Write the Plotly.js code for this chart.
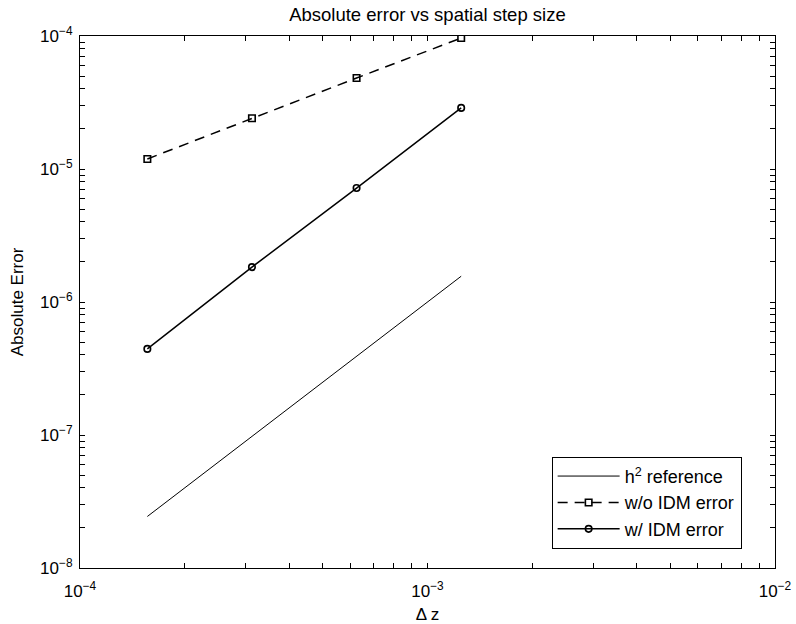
<!DOCTYPE html>
<html>
<head>
<meta charset="utf-8">
<script src="https://cdn.plot.ly/plotly-3.0.1.min.js"></script>
<style>html,body{margin:0;padding:0;background:#fff;}#chart{width:796px;height:624px;}</style>
</head>
<body>
<div id="chart"></div>
<script>
// Data
const dz = [1.5625e-4, 3.125e-4, 6.25e-4, 1.25e-3];
const refH2 = [2.44e-8, 9.77e-8, 3.91e-7, 1.5625e-6];
const errNoIDM = [1.19e-5, 2.41e-5, 4.83e-5, 9.66e-5];
const errIDM = [4.44e-7, 1.83e-6, 7.19e-6, 2.88e-5];
const seriesNames = ['h<sup>2</sup> reference', 'w/o IDM error', 'w/ IDM error'];
const xDecades = [-4, -3, -2];
const yDecades = [-8, -7, -6, -5, -4];

function logTicks(decades) {
  const vals = [], text = [];
  for (let i = 0; i < decades.length; i++) {
    const d = decades[i];
    vals.push(Math.pow(10, d));
    text.push('10<sup>\u2212' + Math.abs(d) + '</sup>');
    if (i < decades.length - 1) {
      for (let m = 2; m <= 9; m++) { vals.push(m * Math.pow(10, d)); text.push(''); }
    }
  }
  return {vals, text};
}
const xt = logTicks(xDecades), yt = logTicks(yDecades);

const traces = [
  {x: dz, y: refH2, name: seriesNames[0], mode: 'lines', type: 'scatter',
   line: {color: '#000', width: 1}},
  {x: dz, y: errNoIDM, name: seriesNames[1], mode: 'lines+markers', type: 'scatter',
   line: {color: '#000', width: 1.5, dash: '10px,7px'},
   marker: {symbol: 'square-open', size: 6.5, color: '#000', line: {width: 1.6, color: '#000'}}},
  {x: dz, y: errIDM, name: seriesNames[2], mode: 'lines+markers', type: 'scatter',
   line: {color: '#000', width: 1.5},
   marker: {symbol: 'circle-open', size: 6.5, color: '#000', line: {width: 1.6, color: '#000'}}}
];

const FONT = 'Liberation Sans, Arial, sans-serif';
const axisCommon = {
  type: 'log', showgrid: false, zeroline: false, showline: true, linecolor: '#000', linewidth: 1,
  mirror: 'ticks', ticks: 'inside', ticklen: 5, tickcolor: '#000', tickwidth: 1,
  tickfont: {family: FONT, size: 17, color: '#000'}
};

const layout = {
  width: 796, height: 624,
  margin: {l: 80, r: 21, t: 36, b: 56},
  paper_bgcolor: '#fff', plot_bgcolor: '#fff',
  font: {family: FONT, color: '#000'},
  title: {text: 'Absolute error vs spatial step size', font: {size: 18.5, color: '#000'},
          x: 0.537, xanchor: 'center', y: 0.976, yanchor: 'middle'},
  xaxis: Object.assign({}, axisCommon, {
    range: [-4, -2], tickmode: 'array', tickvals: xt.vals, ticktext: xt.text,
    ticklabelstandoff: 8,
    title: {text: '\u0394 z', font: {size: 17}, standoff: 10}
  }),
  yaxis: Object.assign({}, axisCommon, {
    range: [-8, -4], tickmode: 'array', tickvals: yt.vals, ticktext: yt.text,
    ticklabelstandoff: 3,
    title: {text: 'Absolute Error', font: {size: 17}, standoff: 12}
  }),
  showlegend: true,
  legend: {x: 0.952, y: 0.036, xanchor: 'right', yanchor: 'bottom',
           bgcolor: '#fff', bordercolor: '#000', borderwidth: 1,
           font: {size: 18, color: '#000'}, itemwidth: 62, tracegroupgap: 0}
};

Plotly.newPlot('chart', traces, layout, {displayModeBar: false, staticPlot: true});
</script>
</body>
</html>
